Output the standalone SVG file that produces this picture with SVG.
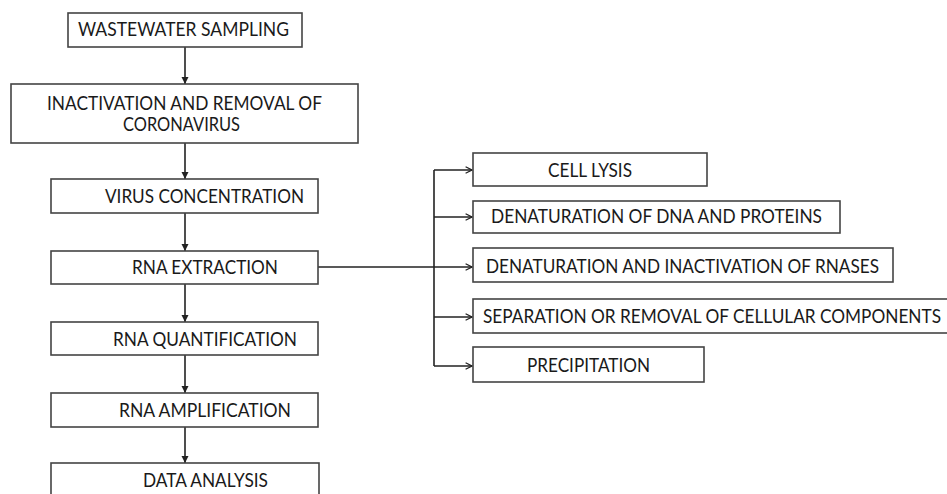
<svg xmlns="http://www.w3.org/2000/svg" width="947" height="494" viewBox="0 0 947 494">
<style>
.box{fill:#fff;stroke:#444;stroke-width:1.6}
.t{font-family:Lato,"Liberation Sans",Arial,sans-serif;font-size:18.5px;fill:#1a1a1a}
.ln{fill:none;stroke:#222;stroke-width:1.6}
</style>
<defs>
<marker id="tri" viewBox="0 0 10 10" refX="10" refY="5" markerWidth="4.5" markerHeight="4.5" orient="auto" markerUnits="strokeWidth">
<path d="M0,0 L10,5 L0,10 z" fill="#222"/>
</marker>
<marker id="vee" viewBox="0 0 10 10" refX="9" refY="5" markerWidth="5" markerHeight="5" orient="auto" markerUnits="strokeWidth">
<path d="M1,1 L9,5 L1,9" fill="none" stroke="#222" stroke-width="1.6"/>
</marker>
</defs>
<rect width="947" height="494" fill="#fff"/>
<g id="connectors">
<line class="ln" x1="185" y1="47" x2="185" y2="84" marker-end="url(#tri)"/>
<line class="ln" x1="185" y1="143" x2="185" y2="179" marker-end="url(#tri)"/>
<line class="ln" x1="185" y1="213" x2="185" y2="251" marker-end="url(#tri)"/>
<line class="ln" x1="185" y1="284" x2="185" y2="322" marker-end="url(#tri)"/>
<line class="ln" x1="185" y1="355" x2="185" y2="393" marker-end="url(#tri)"/>
<line class="ln" x1="185" y1="427" x2="185" y2="463" marker-end="url(#tri)"/>
<polyline class="ln" points="318,267 434,267"/>
<polyline class="ln" points="434,170 434,366"/>
<line class="ln" x1="434" y1="170" x2="472" y2="170" marker-end="url(#vee)"/>
<line class="ln" x1="434" y1="217" x2="472" y2="217" marker-end="url(#vee)"/>
<line class="ln" x1="434" y1="267" x2="472" y2="267" marker-end="url(#vee)"/>
<line class="ln" x1="434" y1="317" x2="472" y2="317" marker-end="url(#vee)"/>
<line class="ln" x1="434" y1="366" x2="472" y2="366" marker-end="url(#vee)"/>
</g>
<g id="wastewater"><rect class="box" x="68" y="13" width="234" height="34"/><text class="t" x="78" y="36" textLength="211" lengthAdjust="spacingAndGlyphs">WASTEWATER SAMPLING</text></g>
<g id="inactivation"><rect class="box" x="11" y="84" width="347" height="59"/><text class="t" x="47" y="110" textLength="275" lengthAdjust="spacingAndGlyphs">INACTIVATION AND REMOVAL OF</text><text class="t" x="123" y="131" textLength="117" lengthAdjust="spacingAndGlyphs">CORONAVIRUS</text></g>
<g id="virus"><rect class="box" x="51" y="179" width="267" height="34"/><text class="t" x="105" y="203" textLength="199" lengthAdjust="spacingAndGlyphs">VIRUS CONCENTRATION</text></g>
<g id="extraction"><rect class="box" x="51" y="251" width="267" height="33"/><text class="t" x="132" y="274" textLength="146" lengthAdjust="spacingAndGlyphs">RNA EXTRACTION</text></g>
<g id="quantification"><rect class="box" x="51" y="322" width="267" height="33"/><text class="t" x="113" y="346" textLength="184" lengthAdjust="spacingAndGlyphs">RNA QUANTIFICATION</text></g>
<g id="amplification"><rect class="box" x="51" y="393" width="267" height="34"/><text class="t" x="119" y="417" textLength="172" lengthAdjust="spacingAndGlyphs">RNA AMPLIFICATION</text></g>
<g id="analysis"><rect class="box" x="51" y="463" width="268" height="40"/><text class="t" x="143" y="487" textLength="125" lengthAdjust="spacingAndGlyphs">DATA ANALYSIS</text></g>
<g id="lysis"><rect class="box" x="473" y="153" width="234" height="33"/><text class="t" x="548" y="177" textLength="84" lengthAdjust="spacingAndGlyphs">CELL LYSIS</text></g>
<g id="dna"><rect class="box" x="473" y="201" width="367" height="32"/><text class="t" x="491" y="223" textLength="331" lengthAdjust="spacingAndGlyphs">DENATURATION OF DNA AND PROTEINS</text></g>
<g id="rnases"><rect class="box" x="473" y="248" width="420" height="34"/><text class="t" x="486" y="273" textLength="393" lengthAdjust="spacingAndGlyphs">DENATURATION AND INACTIVATION OF RNASES</text></g>
<g id="separation"><rect class="box" x="473" y="299" width="480" height="34"/><text class="t" x="483" y="323" textLength="458" lengthAdjust="spacingAndGlyphs">SEPARATION OR REMOVAL OF CELLULAR COMPONENTS</text></g>
<g id="precipitation"><rect class="box" x="473" y="347" width="231" height="35"/><text class="t" x="527" y="372" textLength="123" lengthAdjust="spacingAndGlyphs">PRECIPITATION</text></g>
</svg>
